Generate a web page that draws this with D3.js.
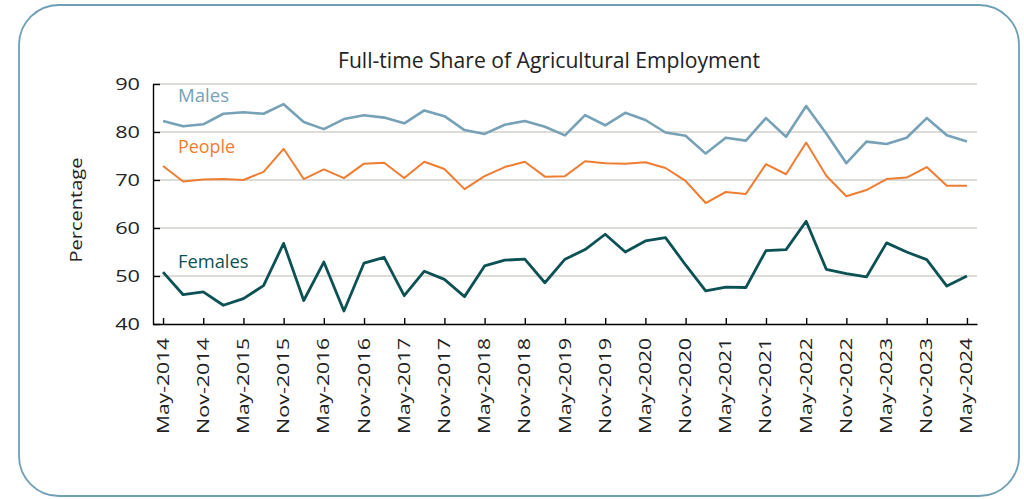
<!DOCTYPE html>
<html>
<head>
<meta charset="utf-8">
<script src="https://cdn.jsdelivr.net/npm/d3@7"></script>
<style>
  body { margin: 0; background: #fff; }
  svg { display: block; font-family: "Open Sans", sans-serif; }
</style>
</head>
<body>
<svg id="chart" width="1024" height="499"></svg>
<script>
// quarterly survey months, May-2014 .. May-2024
const quarters = [
  'May-2014','Aug-2014','Nov-2014','Feb-2015','May-2015','Aug-2015','Nov-2015','Feb-2016',
  'May-2016','Aug-2016','Nov-2016','Feb-2017','May-2017','Aug-2017','Nov-2017','Feb-2018',
  'May-2018','Aug-2018','Nov-2018','Feb-2019','May-2019','Aug-2019','Nov-2019','Feb-2020',
  'May-2020','Aug-2020','Nov-2020','Feb-2021','May-2021','Aug-2021','Nov-2021','Feb-2022',
  'May-2022','Aug-2022','Nov-2022','Feb-2023','May-2023','Aug-2023','Nov-2023','Feb-2024',
  'May-2024'
]
const tickLabels = quarters.filter(q => q.startsWith('May') || q.startsWith('Nov'))
const yTicks = [40, 50, 60, 70, 80, 90]

const males = [82.3,81.2,81.6,83.8,84.1,83.8,85.8,82.1,80.6,82.7,83.5,83.0,81.8,84.5,
  83.3,80.4,79.6,81.5,82.3,81.1,79.3,83.5,81.4,84.0,82.5,79.9,79.2,75.5,
  78.8,78.2,82.9,79.0,85.4,79.7,73.5,78.0,77.5,78.8,82.9,79.3,78.0]
const people = [72.9,69.7,70.1,70.2,70.0,71.7,76.5,70.2,72.2,70.4,73.4,73.6,70.4,73.8,
  72.3,68.1,70.8,72.7,73.8,70.7,70.8,73.9,73.5,73.4,73.7,72.5,69.8,65.2,
  67.5,67.1,73.3,71.2,77.8,70.9,66.6,67.9,70.2,70.5,72.7,68.8,68.8]
const females = [50.8,46.1,46.7,43.9,45.3,48.0,56.8,44.9,52.9,42.7,52.7,53.9,45.9,51.0,
  49.3,45.7,52.1,53.3,53.5,48.6,53.5,55.5,58.7,55.0,57.3,58.0,52.3,46.9,
  47.7,47.6,55.3,55.5,61.4,51.4,50.5,49.8,56.9,55.0,53.4,47.9,50.0]

const seriesNames = ['Males', 'People', 'Females']
const seriesColors = ['#76a1b6', '#ee7d31', '#0c5154']
const seriesWidths = [2.6, 2, 2.8]
const seriesData = [males, people, females]
const labelPos = [[178, 101.5, 51], [178, 153, 57], [178, 268, 70.5]] // x, baseline, width

const svg = d3.select('#chart')

// stretch text to match reference width
function fitWidth(sel, w) {
  sel.attr('textLength', w).attr('lengthAdjust', 'spacingAndGlyphs')
}
function stretch(sel, f) {
  sel.each(function() {
    const n = this.getComputedTextLength()
    d3.select(this).attr('textLength', n * f).attr('lengthAdjust', 'spacingAndGlyphs')
  })
}

svg.append('rect')
  .attr('x', 19).attr('y', 5).attr('width', 1000).attr('height', 491)
  .attr('rx', 40).attr('ry', 40)
  .attr('fill', '#fff').attr('stroke', '#6f9fb7').attr('stroke-width', 1.8)

const x = d3.scalePoint().domain(quarters).range([153, 977]).padding(0.5)
const y = d3.scaleLinear().domain([40, 90]).range([324, 84])

// grid
svg.append('g').selectAll('line').data(yTicks.slice(1)).join('line')
  .attr('x1', 153).attr('x2', 977)
  .attr('y1', d => y(d)).attr('y2', d => y(d))
  .attr('stroke', '#d3d0cb').attr('stroke-width', 1.4)

// title
svg.append('text')
  .attr('x', 338).attr('y', 67.5)
  .attr('font-size', 21).attr('fill', '#222')
  .text('Full-time Share of Agricultural Employment')
  .call(fitWidth, 422)

// y axis
const gy = svg.append('g').attr('transform', 'translate(153,0)')
  .call(d3.axisLeft(y).tickValues(yTicks).tickSize(-7).tickPadding(13).tickSizeOuter(0))
gy.select('.domain').attr('stroke', '#000').attr('stroke-width', 1.4)
gy.selectAll('.tick line').attr('stroke', '#000').attr('stroke-width', 1.4)
gy.selectAll('.tick text')
  .attr('font-size', 15.5).attr('fill', '#222').attr('font-family', '"Open Sans", sans-serif')
  .attr('dy', '0.36em')
  .call(stretch, 1.4)

svg.append('text')
  .attr('transform', 'translate(82,210) rotate(-90)')
  .attr('text-anchor', 'middle')
  .attr('font-size', 15.5).attr('fill', '#222')
  .text('Percentage')
  .call(fitWidth, 105)

// x axis
const gx = svg.append('g').attr('transform', 'translate(0,324)')
  .call(d3.axisBottom(x).tickValues(tickLabels).tickSize(-6).tickSizeOuter(0))
gx.select('.domain').attr('stroke', '#000').attr('stroke-width', 1.4)
gx.selectAll('.tick line').attr('stroke', '#000').attr('stroke-width', 1.4)
gx.selectAll('.tick text')
  .attr('font-size', 17).attr('fill', '#222').attr('font-family', '"Open Sans", sans-serif')
  .attr('transform', 'rotate(-90)')
  .attr('text-anchor', 'end')
  .attr('x', -14).attr('y', 5).attr('dy', 0)
  .call(fitWidth, 96)

// series
const line = d3.line().x((d, i) => x(quarters[i])).y(d => y(d))
seriesData.forEach((vals, k) => {
  svg.append('path')
    .datum(vals)
    .attr('fill', 'none')
    .attr('stroke', seriesColors[k])
    .attr('stroke-width', seriesWidths[k])
    .attr('stroke-linejoin', 'round')
    .attr('d', line)
  svg.append('text')
    .attr('x', labelPos[k][0]).attr('y', labelPos[k][1])
    .attr('font-size', 18.5).attr('fill', seriesColors[k])
    .text(seriesNames[k])
    .call(fitWidth, labelPos[k][2])
})
</script>
</body>
</html>
